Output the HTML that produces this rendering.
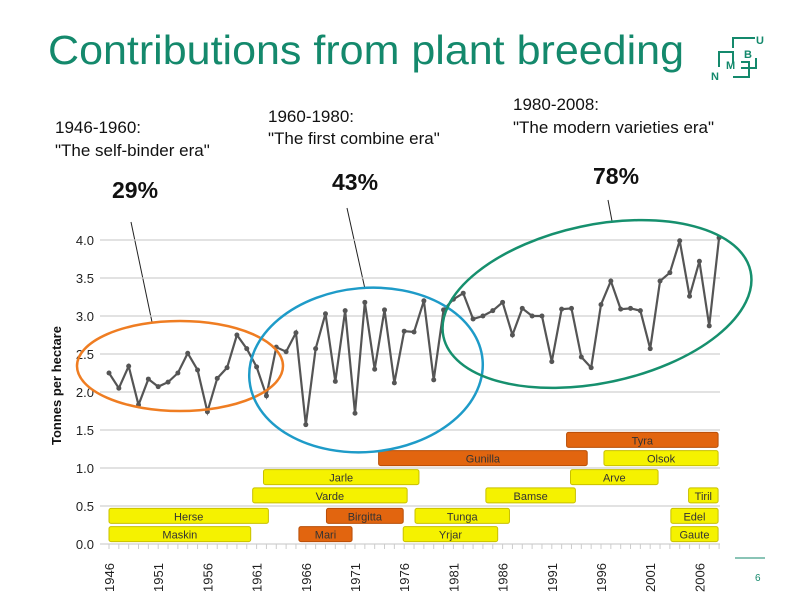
<!DOCTYPE html>
<html><head><meta charset="utf-8">
<style>
body{margin:0;width:811px;height:600px;background:#fff;overflow:hidden;font-family:"Liberation Sans",sans-serif}
svg{position:absolute;left:0;top:0}
</style></head>
<body>
<svg id="s" width="811" height="600">
<text x="48" y="64" font-size="41" fill="#14896c" font-family="Liberation Sans" textLength="636" lengthAdjust="spacingAndGlyphs">Contributions from plant breeding</text>
<g stroke="#14896c" stroke-width="2" fill="none">
<path d="M733 48 V38 H755 M719 67 V52 H733 V63 M733 77 H749 V62 H741 M741 68 H756 V58"/>
<text x="756" y="44" font-size="11" fill="#14896c" stroke="none" font-weight="bold">U</text>
<text x="744" y="58" font-size="11" fill="#14896c" stroke="none" font-weight="bold">B</text>
<text x="726" y="69" font-size="11" fill="#14896c" stroke="none" font-weight="bold">M</text>
<text x="711" y="80" font-size="11" fill="#14896c" stroke="none" font-weight="bold">N</text>
</g>
<g font-size="17" fill="#111">
<text x="55" y="133">1946-1960:</text><text x="55" y="156">"The self-binder era"</text>
<text x="268" y="122">1960-1980:</text><text x="268" y="144">"The first combine era"</text>
<text x="513" y="110">1980-2008:</text><text x="513" y="133">"The modern varieties era"</text>
</g>
<g font-size="23" font-weight="bold" fill="#111">
<text x="112" y="198">29%</text><text x="332" y="190">43%</text><text x="593" y="184">78%</text>
</g>
<g stroke="#222" stroke-width="1">
<line x1="131" y1="222" x2="152" y2="322"/><line x1="347" y1="208" x2="365" y2="289"/><line x1="608" y1="200" x2="612" y2="221"/>
</g>
<text transform="translate(61,445) rotate(-90)" font-size="13" font-weight="bold" fill="#111">Tonnes per hectare</text>
<line x1="735" y1="558" x2="765" y2="558" stroke="#14896c"/>
<text x="755" y="581" font-size="10" fill="#14896c">6</text>
<g id="chart"></g>
</svg>
<script>
const years=[];for(let y=1946;y<=2008;y++)years.push(y);
const yields=[2.25,2.05,2.34,1.83,2.17,2.07,2.13,2.25,2.51,2.29,1.74,2.18,2.32,2.75,2.57,2.33,1.95,2.59,2.53,2.78,1.57,2.57,3.03,2.14,3.07,1.72,3.18,2.30,3.08,2.12,2.80,2.79,3.20,2.16,3.08,3.22,3.30,2.96,3.00,3.07,3.18,2.75,3.10,3.00,3.00,2.40,3.09,3.10,2.46,2.32,3.15,3.46,3.09,3.10,3.07,2.57,3.46,3.57,3.99,3.26,3.72,2.87,4.03];
const yTicks=[0,0.5,1,1.5,2,2.5,3,3.5,4];
const xTicks=[1946,1951,1956,1961,1966,1971,1976,1981,1986,1991,1996,2001,2006];
const varNames=["Maskin","Herse","Varde","Jarle","Mari","Birgitta","Yrjar","Tunga","Gunilla","Bamse","Tyra","Arve","Olsok","Tiril","Edel","Gaute"];
const varStart=[1946,1946,1960.6,1961.7,1965.3,1968.1,1975.9,1977.1,1973.4,1984.3,1992.5,1992.9,1996.3,2004.9,2003.1,2003.1];
const varEnd=[1960.4,1962.2,1976.3,1977.5,1970.7,1975.9,1985.5,1986.7,1994.6,1993.4,2007.9,2001.8,2007.9,2007.9,2007.9,2007.9];
const varLevel=[0.13,0.37,0.64,0.88,0.13,0.37,0.13,0.37,1.13,0.64,1.37,0.88,1.13,0.64,0.37,0.13];
const varOrange=[0,0,0,0,1,1,0,0,1,0,1,0,0,0,0,0];
const X=y=>109+(y-1946)*9.84, Y=v=>544-v*76;
const NS="http://www.w3.org/2000/svg", g=document.getElementById('chart');
function mk(t,a,p){const e=document.createElementNS(NS,t);for(const k in a)e.setAttribute(k,a[k]);(p||g).appendChild(e);return e;}
yTicks.forEach(v=>{
 const l=mk('line',{x1:100,x2:720,y1:Y(v),y2:Y(v),stroke:'#d0d0d0','stroke-width':1.2});
 
 
 const t=mk('text',{x:94,y:Y(v)+5,'text-anchor':'end','font-size':13,fill:'#222'});t.textContent=v.toFixed(1);
 
 
});
years.forEach(y=>{const l=mk('line',{x1:X(y),x2:X(y),y1:544,y2:549,stroke:'#ccc'});
 
 });
xTicks.forEach(y=>{const t=mk('text',{transform:`translate(${X(y)+5},${592}) rotate(-90)`,'font-size':13,fill:'#222'});t.textContent=y;
 
 });
varNames.forEach((n,i)=>{
 const x1=X(varStart[i]),x2=X(varEnd[i]),yc=Y(varLevel[i]);
 const r=mk('rect',{x:x1,y:yc-7.5,width:x2-x1,height:15,rx:2,fill:varOrange[i]?'#e2650f':'#f5f200',stroke:varOrange[i]?'#b84e08':'#c8c000','stroke-width':1});
 
 
 const t=mk('text',{x:(x1+x2)/2,y:yc+4.5,'text-anchor':'middle','font-size':11,fill:'#333'});t.textContent=n;
 
 
});
const pts=years.map((y,i)=>X(y)+','+Y(yields[i])).join(' ');
const pl=mk('polyline',{points:pts,fill:'none',stroke:'#555','stroke-width':2.2});


years.forEach((y,i)=>{const c=mk('circle',{cx:X(y),cy:Y(yields[i]),r:2.5,fill:'#555'});
 
 });
[['#ef7d22',180,366,103,45,0,'era-ellipse-1946-1960'],['#1e9bc8',366,370,117,82,-5,'era-ellipse-1960-1980'],['#16906e',597,304,157,79,-12,'era-ellipse-1980-2008']].forEach(e=>{
 const el=mk('ellipse',{cx:e[1],cy:e[2],rx:e[3],ry:e[4],fill:'none',stroke:e[0],'stroke-width':2.5,transform:`rotate(${e[5]} ${e[1]} ${e[2]})`});
 
 
});
</script>
</body></html>
